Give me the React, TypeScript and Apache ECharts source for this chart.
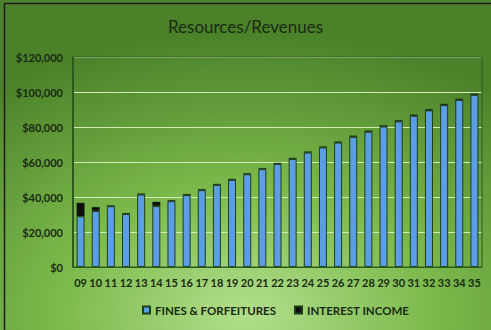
import React, { useEffect, useRef } from "react";
import * as echarts from "echarts";

const categories = ["09","10","11","12","13","14","15","16","17","18","19","20","21","22","23","24","25","26","27","28","29","30","31","32","33","34","35"];
const fines = [29000, 32000, 34700, 30300, 41400, 34800, 37600, 41100, 43900, 46900, 49800, 53000, 55900, 58900, 61800, 65400, 68300, 71100, 74400, 77300, 80300, 83200, 86400, 89500, 92500, 95500, 98400];
const interest = [7700, 2300, 500, 500, 600, 2500, 600, 600, 600, 600, 600, 600, 600, 600, 600, 600, 600, 600, 700, 700, 700, 700, 700, 700, 700, 700, 700];
const yTicks = [0, 20000, 40000, 60000, 80000, 100000, 120000];

export default function App() {
  const ref = useRef<HTMLDivElement>(null);
  useEffect(() => {
    const chart = echarts.init(ref.current!, undefined, { renderer: "svg" });
    const font = "Lato, 'Open Sans', sans-serif";
    chart.setOption({
      animation: false,
      backgroundColor: {
        type: "radial", x: 0.5, y: 0.95, r: 0.85,
        colorStops: [
          { offset: 0, color: "#b2df8c" },
          { offset: 0.45, color: "#7cba4c" },
          { offset: 1, color: "#4b8129" },
        ],
      },
      title: {
        text: "Resources/Revenues", left: "center", top: 13,
        textStyle: { fontFamily: font, fontSize: 17, fontWeight: "normal", color: "#1a2a12" },
      },
      grid: { left: 73, right: 9, top: 57, bottom: 63 },
      legend: {
        bottom: 9, left: 137, itemWidth: 7, itemHeight: 7, itemGap: 18,
        icon: "rect",
        textStyle: { fontFamily: font, fontSize: 11.5, fontWeight: "bold", color: "#1a2a12" },
        data: ["FINES & FORFEITURES", "INTEREST INCOME"],
      },
      xAxis: {
        type: "category", data: categories,
        axisLine: { lineStyle: { color: "#2d5a1c", width: 1 } },
        axisTick: { show: false },
        axisLabel: { fontFamily: font, fontSize: 11, fontWeight: "bold", color: "#1a2a12", margin: 10, interval: 0 },
      },
      yAxis: {
        type: "value", min: yTicks[0], max: yTicks[yTicks.length - 1], interval: 20000,
        axisLine: { show: true, lineStyle: { color: "#2d5a1c" } },
        splitLine: { lineStyle: { color: "#d2eab8", width: 1 } },
        axisLabel: {
          fontFamily: font, fontSize: 11, fontWeight: "bold", color: "#1a2a12", margin: 10,
          formatter: (v: number) => "$" + v.toLocaleString("en-US"),
        },
      },
      series: [
        {
          name: "FINES & FORFEITURES", type: "bar", stack: "a", data: fines, barWidth: 8,
          itemStyle: { color: "#5b9ee6", borderColor: "#1f3d1a", borderWidth: 1 },
        },
        {
          name: "INTEREST INCOME", type: "bar", stack: "a", data: interest, barWidth: 8,
          itemStyle: { color: "#0d0d0d", borderColor: "#1f3d1a", borderWidth: 0.5 },
        },
      ],
      graphic: [
        { type: "rect", shape: { x: 72.5, y: 57, width: 409.5, height: 210 }, style: { fill: "none", stroke: "#2d5a1c", lineWidth: 1 }, z: 10 },
        { type: "rect", shape: { x: 4.5, y: 3.5, width: 490, height: 330 }, style: { fill: "none", stroke: "#1c1c1c", lineWidth: 1.5 }, z: 10 },
      ],
    });
    return () => chart.dispose();
  }, []);
  return <div ref={ref} style={{ width: 491, height: 330, position: "absolute", left: 0, top: 0, background: "#fff" }} />;
}
